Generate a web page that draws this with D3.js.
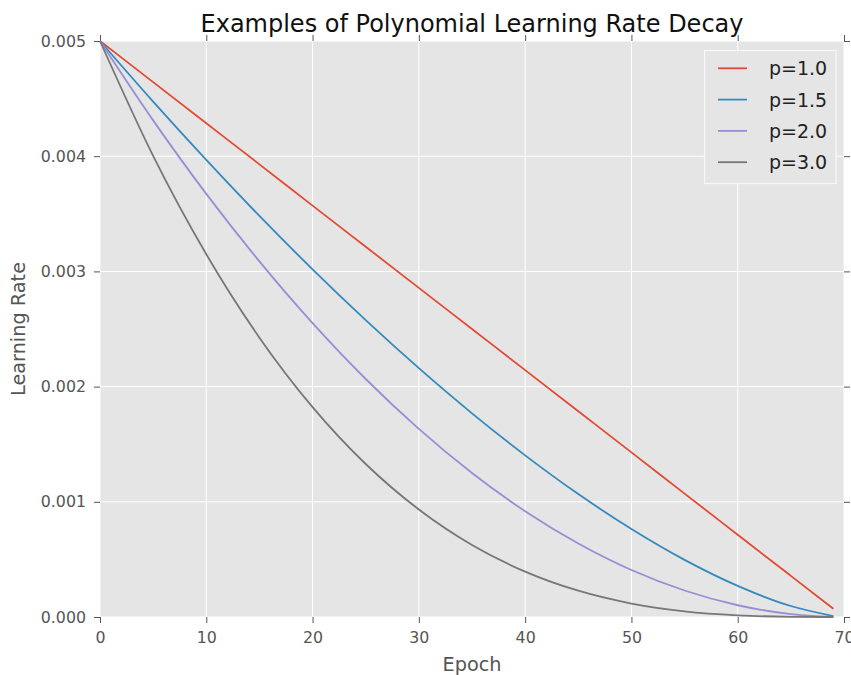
<!DOCTYPE html>
<html>
<head>
<meta charset="utf-8">
<script src="https://cdn.jsdelivr.net/npm/d3@7"></script>
<style>
  html, body { margin: 0; padding: 0; background: #ffffff; }
  svg { display: block; }
  text { font-family: "DejaVu Sans", sans-serif; }
</style>
</head>
<body>
<svg id="chart" width="851" height="675"></svg>
<script>
// ---- Data ----
const epochs = [0, 5, 10, 15, 20, 25, 30, 35, 40, 45, 50, 55, 60, 65, 69];
const seriesNames = ["p=1.0", "p=1.5", "p=2.0", "p=3.0"];
const p10 = [0.005, 0.004643, 0.004286, 0.003929, 0.003571, 0.003214, 0.002857, 0.0025, 0.002143, 0.001786, 0.001429, 0.001071, 0.000714, 0.000357, 0.0000714];
const p15 = [0.005, 0.004474, 0.003968, 0.003482, 0.003018, 0.002577, 0.002160, 0.001768, 0.001403, 0.001067, 0.000764, 0.000496, 0.000270, 0.0000955, 0.0000085];
const p20 = [0.005, 0.004311, 0.003673, 0.003087, 0.002551, 0.002066, 0.001633, 0.00125, 0.000918, 0.000638, 0.000408, 0.000230, 0.000102, 0.0000255, 0.000001];
const p30 = [0.005, 0.004003, 0.003149, 0.002425, 0.001822, 0.001328, 0.000933, 0.000625, 0.000394, 0.000228, 0.000117, 0.0000492, 0.0000146, 0.0000018, 0.0];
const xTicks = [0, 10, 20, 30, 40, 50, 60, 70];
const yTicks = [0.000, 0.001, 0.002, 0.003, 0.004, 0.005];
const colors = ["#E24A33", "#348ABD", "#988ED5", "#777777"];

const seriesValues = [p10, p15, p20, p30];

// ---- Layout ----
const svg = d3.select("#chart");
const pL = 100, pR = 844, pT = 41, pB = 617;

const x = d3.scaleLinear().domain([0, 70]).range([pL, pR]);
const y = d3.scaleLinear().domain([0, 0.005]).range([pB, pT]);

// background
svg.append("rect").attr("x", pL).attr("y", pT)
  .attr("width", pR - pL).attr("height", pB - pT)
  .attr("fill", "#E5E5E5");

// grid
const grid = svg.append("g");
grid.selectAll(".gx").data(xTicks).join("line")
  .attr("x1", d => x(d)).attr("x2", d => x(d))
  .attr("y1", pT).attr("y2", pB)
  .attr("stroke", "#ffffff").attr("stroke-width", 1);
grid.selectAll(".gy").data(yTicks).join("line")
  .attr("x1", pL).attr("x2", pR)
  .attr("y1", d => y(d)).attr("y2", d => y(d))
  .attr("stroke", "#ffffff").attr("stroke-width", 1);

// axes
const tickFmt = d3.format(".3f");
function styleAxis(g, showText) {
  g.select(".domain").remove();
  g.selectAll(".tick line").attr("stroke", "#555555").attr("stroke-width", 1);
  g.selectAll(".tick text").attr("fill", "#555555")
    .style("font-family", "'DejaVu Sans', sans-serif").style("font-size", "15.8px");
  if (!showText) g.selectAll(".tick text").remove();
}
svg.append("g").attr("transform", `translate(0,${pB})`)
  .call(d3.axisBottom(x).tickValues(xTicks).tickFormat(d3.format("d")).tickSize(6).tickPadding(9))
  .call(g => styleAxis(g, true));
svg.append("g").attr("transform", `translate(0,${pT})`)
  .call(d3.axisTop(x).tickValues(xTicks).tickSize(6))
  .call(g => styleAxis(g, false));
svg.append("g").attr("transform", `translate(${pL},0)`)
  .call(d3.axisLeft(y).tickValues(yTicks).tickFormat(tickFmt).tickSize(6).tickPadding(8))
  .call(g => styleAxis(g, true));
svg.append("g").attr("transform", `translate(${pR},0)`)
  .call(d3.axisRight(y).tickValues(yTicks).tickSize(6))
  .call(g => styleAxis(g, false));

// lines
const line = d3.line()
  .x((d, i) => x(epochs[i]))
  .y(d => y(d))
  .curve(d3.curveMonotoneX);

svg.append("g").selectAll("path").data(seriesValues).join("path")
  .attr("d", d => line(d))
  .attr("fill", "none")
  .attr("stroke", (d, i) => colors[i])
  .attr("stroke-width", 1.8);

// title & labels
svg.append("text").attr("x", (pL + pR) / 2).attr("y", 32)
  .attr("text-anchor", "middle").attr("fill", "#111111")
  .style("font-size", "24px")
  .text("Examples of Polynomial Learning Rate Decay");

svg.append("text").attr("x", (pL + pR) / 2).attr("y", 671)
  .attr("text-anchor", "middle").attr("fill", "#555555")
  .style("font-size", "19.3px").text("Epoch");

svg.append("text").attr("transform", `translate(25,${(pT + pB) / 2}) rotate(-90)`)
  .attr("text-anchor", "middle").attr("fill", "#555555")
  .style("font-size", "19.3px").text("Learning Rate");

// legend
const lg = svg.append("g");
lg.append("rect").attr("x", 704.5).attr("y", 50.5).attr("width", 131.5).attr("height", 133)
  .attr("fill", "#E5E5E5").attr("stroke", "#f8f8f8").attr("stroke-width", 1.2);
const items = lg.selectAll("g.item").data(seriesNames).join("g")
  .attr("transform", (d, i) => `translate(0,${68.3 + i * 31.3})`);
items.append("line").attr("x1", 718).attr("x2", 747).attr("y1", 0).attr("y2", 0)
  .attr("stroke", (d, i) => colors[i]).attr("stroke-width", 1.8);
items.append("text").attr("x", 769).attr("y", 7)
  .attr("fill", "#222222").style("font-size", "19px").text(d => d);
</script>
</body>
</html>
